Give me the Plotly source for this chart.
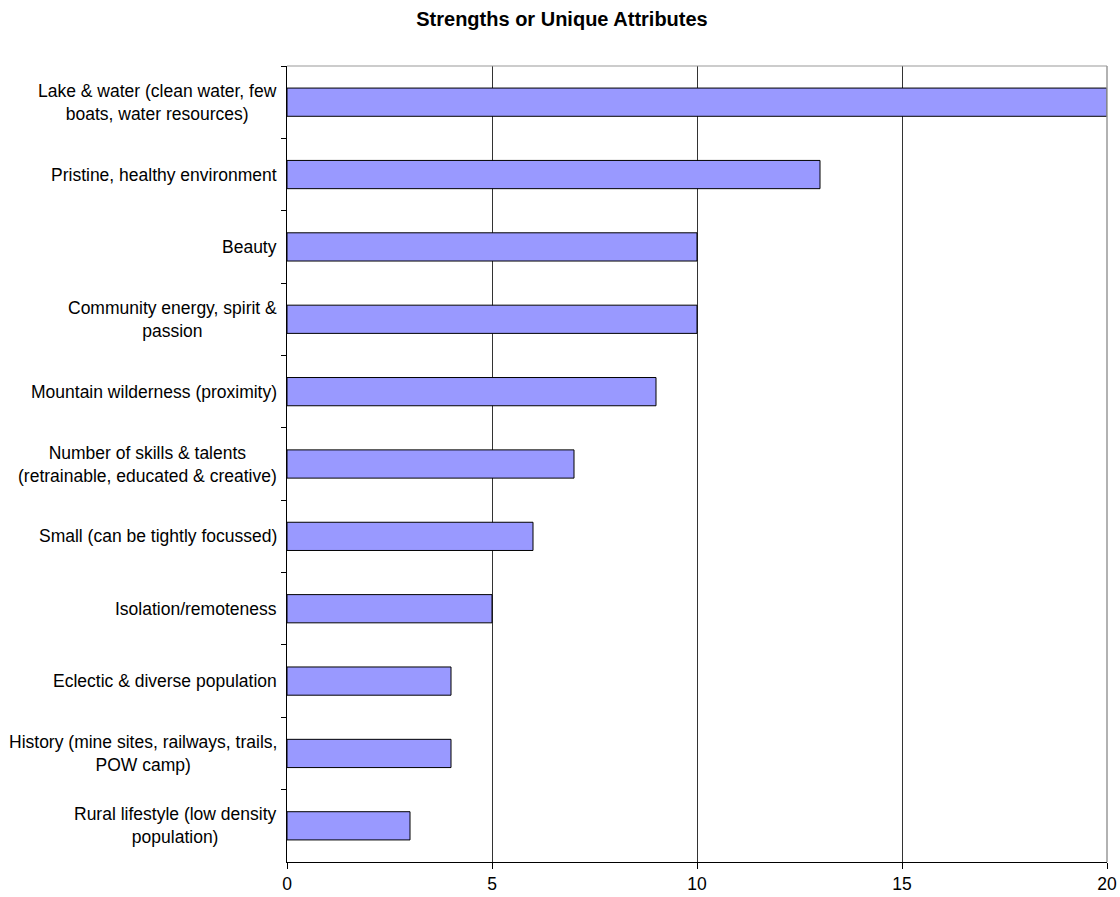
import plotly.graph_objects as go

categories = [
    "Lake & water (clean water, few<br>boats, water resources)",
    "Pristine, healthy environment",
    "Beauty",
    "Community energy, spirit &<br>passion",
    "Mountain wilderness (proximity)",
    "Number of skills & talents<br>(retrainable, educated & creative)",
    "Small (can be tightly focussed)",
    "Isolation/remoteness",
    "Eclectic & diverse population",
    "History (mine sites, railways, trails,<br>POW camp)",
    "Rural lifestyle (low density<br>population)",
]
values = [20, 13, 10, 10, 9, 7, 6, 5, 4, 4, 3]
x_ticks = [0, 5, 10, 15, 20]
title_text = "Strengths or Unique Attributes"

FONT = "Liberation Sans, Arial, sans-serif"
FS = 17.5

W, H = 1120, 897

fig = go.Figure()
fig.add_trace(go.Bar(
    x=values, y=categories, orientation="h",
    marker=dict(color="#9999FF", line=dict(color="#000000", width=1)),
    width=0.39,
    hoverinfo="x+y",
))

annotations = []
for c in categories:
    annotations.append(dict(
        x=0, xref="paper", y=c, yref="y", text=c, showarrow=False,
        xanchor="right", yanchor="middle", align="center", xshift=-8,
        font=dict(family=FONT, size=FS, color="#000000"),
    ))

fig.update_layout(
    width=W, height=H,
    margin=dict(l=287, r=13, t=66, b=35, autoexpand=False),
    paper_bgcolor="white", plot_bgcolor="white",
    showlegend=False,
    title=dict(text="<b>" + title_text + "</b>", x=562 / W, xanchor="center",
               y=1 - 19 / H, yanchor="middle",
               font=dict(family=FONT, size=20, color="#000000")),
    font=dict(family=FONT, size=FS, color="#000000"),
    annotations=annotations,
)
fig.update_xaxes(
    range=[0, 20], tickvals=x_ticks, showgrid=True, gridcolor="#333333", gridwidth=1,
    showline=True, linecolor="#000000", linewidth=1,
    ticks="outside", ticklen=6, tickcolor="#000000",
    tickfont=dict(family=FONT, size=FS, color="#000000"),
    ticklabeloverflow="allow", automargin=False,
    zeroline=False, fixedrange=True,
)
fig.update_yaxes(
    autorange="reversed", type="category",
    showticklabels=False, showgrid=False,
    showline=True, linecolor="#000000", linewidth=1,
    ticks="outside", ticklen=5, tickcolor="#000000", tickson="boundaries",
    automargin=False,
    zeroline=False, fixedrange=True,
)
# plot area border (top and right) in gray
fig.add_shape(type="line", xref="paper", yref="paper", x0=0, x1=1, y0=1, y1=1,
              line=dict(color="#999999", width=1))
fig.add_shape(type="line", xref="paper", yref="paper", x0=1, x1=1, y0=0, y1=1,
              line=dict(color="#999999", width=1.5))

fig.write_html(
    "out.html",
    config={"displayModeBar": False},
    post_script="document.body.style.margin='0';document.body.style.overflow='hidden';",
)
